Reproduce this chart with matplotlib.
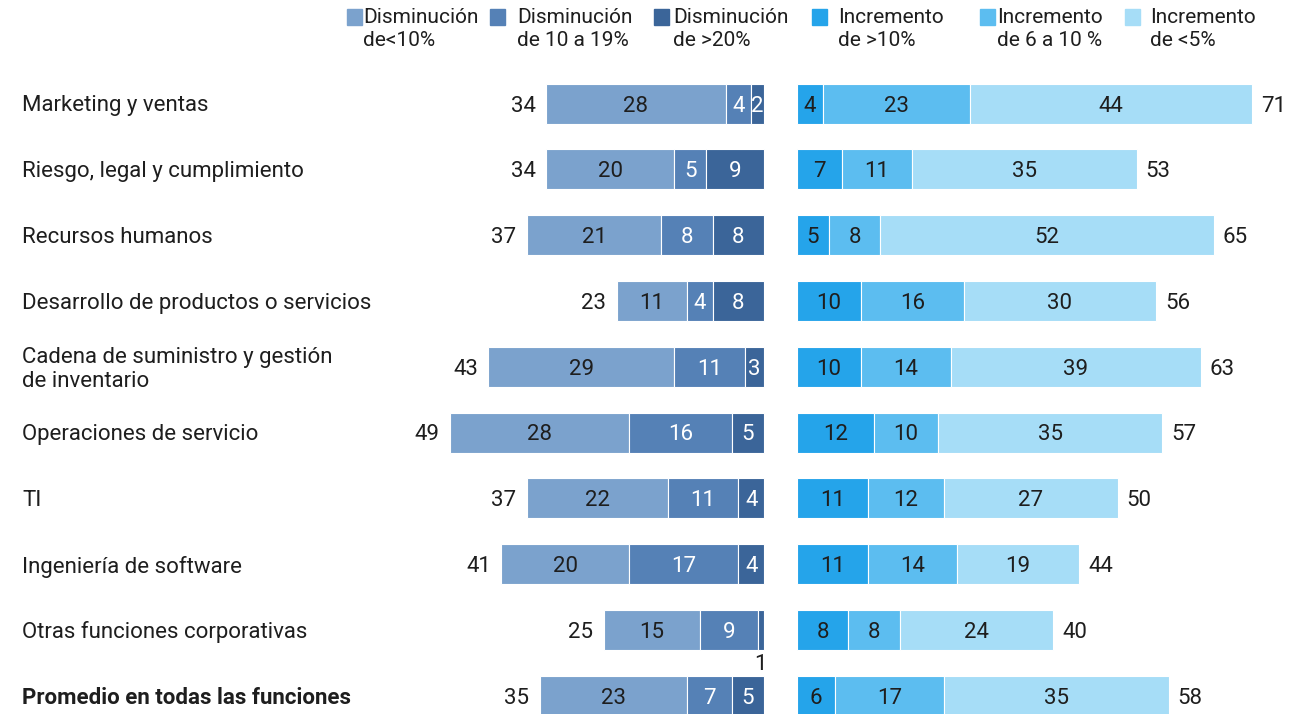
import matplotlib.pyplot as plt
import matplotlib.patches as mpatches
import numpy as np

plt.rcParams['font.family'] = ['Roboto', 'DejaVu Sans']

categorias = [
    'Marketing y ventas',
    'Riesgo, legal y cumplimiento',
    'Recursos humanos',
    'Desarrollo de productos o servicios',
    'Cadena de suministro y gestión\nde inventario',
    'Operaciones de servicio',
    'TI',
    'Ingeniería de software',
    'Otras funciones corporativas',
    'Promedio en todas las funciones',
]

# disminuciones (de la barra izquierda, de fuera hacia el centro)
dis_menos10 = [28, 20, 21, 11, 29, 28, 22, 20, 15, 23]
dis_10a19 = [4, 5, 8, 4, 11, 16, 11, 17, 9, 7]
dis_mas20 = [2, 9, 8, 8, 3, 5, 4, 4, 1, 5]
dis_total = [34, 34, 37, 23, 43, 49, 37, 41, 25, 35]

# incrementos (desde el centro hacia fuera)
inc_mas10 = [4, 7, 5, 10, 10, 12, 11, 11, 8, 6]
inc_6a10 = [23, 11, 8, 16, 14, 10, 12, 14, 8, 17]
inc_menos5 = [44, 35, 52, 30, 39, 35, 27, 19, 24, 35]
inc_total = [71, 53, 65, 56, 63, 57, 50, 44, 40, 58]

leyenda = ['Disminución\nde<10%', 'Disminución\nde 10 a 19%', 'Disminución\nde >20%',
           'Incremento\nde >10%', 'Incremento\nde 6 a 10 %', 'Incremento\nde <5%']

c_dis = ['#7ba2cd', '#5581b6', '#3b6599']
c_inc = ['#25a4ea', '#5cbdf0', '#a6ddf7']
txt_dis = ['#1e1e1e', 'white', 'white']
dark = '#1e1e1e'

fig = plt.figure(figsize=(13.03, 7.14), dpi=100)
ax = fig.add_axes([0, 0, 1, 1])
px = 6.41      # pixeles por unidad
centro = 780.5
gap = 16.5 / px
ax.set_xlim(-centro / px, (1303 - centro) / px)
row0, paso = 103.5, 65.8
ax.set_ylim((714 - row0) / paso, -row0 / paso)
ax.axis('off')

h = 40 / paso
y = np.arange(len(categorias))
fs = 16
dy = 2.5 / paso   # ajuste vertical del texto

for i in range(len(categorias)):
    yt = y[i] + dy
    # izquierda
    segs = [dis_menos10[i], dis_10a19[i], dis_mas20[i]]
    x = -gap - sum(segs)
    for k, v in enumerate(segs):
        ax.barh(y[i], v, left=x, height=h, color=c_dis[k], edgecolor='white', linewidth=0.8)
        if v >= 2:
            ax.text(x + v / 2, yt, str(v), ha='center', va='center', fontsize=fs, color=txt_dis[k])
        else:
            ax.text(x + v / 2, y[i] + h / 2 + 0.06, str(v), ha='center', va='top', fontsize=fs, color=dark)
        x += v
    ax.text(-gap - dis_total[i] - 1.6, yt, str(dis_total[i]), ha='right', va='center', fontsize=fs, color=dark)

    # derecha
    segs = [inc_mas10[i], inc_6a10[i], inc_menos5[i]]
    x = gap
    for k, v in enumerate(segs):
        ax.barh(y[i], v, left=x, height=h, color=c_inc[k], edgecolor='white', linewidth=0.8)
        ax.text(x + v / 2, yt, str(v), ha='center', va='center', fontsize=fs, color=dark)
        x += v
    ax.text(gap + inc_total[i] + 1.4, yt, str(inc_total[i]), ha='left', va='center', fontsize=fs, color=dark)

    ax.text(-(centro - 22) / px, yt, categorias[i], ha='left', va='center', fontsize=fs,
            color=dark, linespacing=1.2, fontweight='bold' if i == len(categorias) - 1 else 'normal')

# leyenda
cuadros = [347, 490, 654, 812, 980, 1125]
textos = [363, 517, 673, 838, 997, 1150]
colores = c_dis + c_inc
for k in range(6):
    fig.patches.append(mpatches.Rectangle((cuadros[k] / 1303, 1 - 25 / 714), 15 / 1303, 16 / 714,
                                          transform=fig.transFigure, color=colores[k]))
    fig.text(textos[k] / 1303, 1 - 8 / 714, leyenda[k], ha='left', va='top', fontsize=15,
             color=dark, linespacing=1.25, multialignment='left')

fig.savefig('out.png', dpi=100, facecolor='white')
